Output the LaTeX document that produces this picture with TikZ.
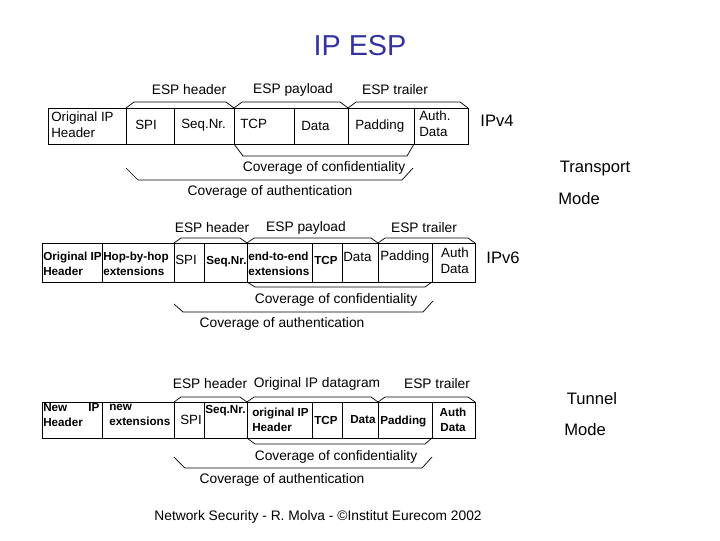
\documentclass[tikz,border=0pt]{standalone}
\usepackage{fontspec}
\setmainfont{Liberation Sans}
\definecolor{titleblue}{RGB}{51,51,160}
\tikzset{
  lbl/.style={font=\fontsize{9.8}{11}\selectfont, inner sep=0pt},
  side/.style={font=\fontsize{11.8}{13}\selectfont, inner sep=0pt},
  cellt/.style={font=\fontsize{9.5}{11.2}\selectfont, inner sep=0pt, align=left, anchor=west},
  cellb/.style={font=\fontsize{8.3}{10.5}\selectfont\bfseries, inner sep=0pt, align=left, anchor=west},
  box/.style={line width=0.6pt},
  brk/.style={line width=0.5pt},
}
\begin{document}
\begin{tikzpicture}[x=0.025cm, y=-0.025cm]
        \useasboundingbox (0,0) rectangle (720,540);

        % Title
        \node[titleblue, font=\fontsize{20.5}{24}\selectfont, inner sep=0pt] (title) at (360,46) {IP ESP};

        % ---------- Transport mode, IPv4 ----------
        \draw[box] (48,108) rectangle (468,144);
        \foreach \x in {126,174,234,294,348,414}
            \draw[box] (\x,108) -- (\x,144);
        \foreach \a/\b in {126/234, 234/348, 348/468}
            \draw[brk] (\a,108) -- (\a+8,102) -- (\b-8,102) -- (\b,108);
        \draw[brk] (234,144) -- (243,156) -- (407,156) -- (414,144);
        \draw[brk] (126,168) -- (138,180) -- (402,180) -- (413,168);

        \node[lbl] (hdrA) at (189,90) {ESP header};
        \node[lbl] (payA) at (293,90) {ESP payload};
        \node[lbl] (trlA) at (395,90) {ESP trailer};

        \node[cellt] (origA) at (51,125) {Original IP\\Header};
        \node[cellt] (spiA) at (135,125) {SPI};
        \node[cellt] (seqA) at (181,125) {Seq.Nr.};
        \node[cellt] (tcpA) at (240,124) {TCP};
        \node[cellt] (dataA) at (301,126) {Data};
        \node[cellt] (padA) at (355,126) {Padding};
        \node[cellt] (authA) at (419,124) {Auth.\\Data};

        \node[lbl] (confA) at (324,168) {Coverage of confidentiality};
        \node[lbl] (autA) at (270,192) {Coverage of authentication};
        \node[side] (ipvA) at (497,121) {IPv4};

        % ---------- Transport mode, IPv6 ----------
        \draw[box] (42,243) rectangle (475,282);
        \foreach \x in {102,174,204,247,312,342,378,432}
            \draw[box] (\x,243) -- (\x,282);
        \foreach \a/\b in {174/247, 247/378, 378/475}
            \draw[brk] (\a,243) -- (\a+7,238) -- (\b-7,238) -- (\b,243);
        \draw[brk] (247,282) -- (255,287) -- (425,287) -- (432,282);
        \draw[brk] (174,304) -- (183,312) -- (423,312) -- (433,301);

        \node[lbl] (hdrB) at (212,228) {ESP header};
        \node[lbl] (payB) at (306,228) {ESP payload};
        \node[lbl] (trlB) at (424,228) {ESP trailer};

        \node[cellb] (origB) at (43,264) {Original IP\\Header};
        \node[cellb] (hopB) at (103,264) {Hop-by-hop\\extensions};
        \node[cellt] (spiB) at (175,260) {SPI};
        \node[cellb] (seqB) at (206,262) {Seq.Nr.};
        \node[cellb] (e2eB) at (248,264) {end-to-end\\extensions};
        \node[cellb] (tcpB) at (314,260) {TCP};
        \node[cellt] (dataB) at (343,257) {Data};
        \node[cellt] (padB) at (380,257) {Padding};
        \node[cellt, anchor=east, align=right] (authB) at (469,261) {Auth\\Data};

        \node[lbl] (confB) at (336,300) {Coverage of confidentiality};
        \node[lbl] (autB) at (282,324) {Coverage of authentication};
        \node[side] (ipvB) at (503,258) {IPv6};

        % Mode label, transport
        \node[side] (transp) at (595,169) {Transport};
        \node[side] (modeA) at (579,199) {Mode};

        % ---------- Tunnel mode ----------
        \draw[box] (42,402) rectangle (475,438);
        \foreach \x in {102,174,204,247,312,342,378,432}
            \draw[box] (\x,402) -- (\x,438);
        \foreach \a/\b in {174/247, 247/378, 378/475}
            \draw[brk] (\a,402) -- (\a+7,397) -- (\b-7,397) -- (\b,402);
        \draw[brk] (247,438) -- (255,444) -- (425,444) -- (432,438);
        \draw[brk] (174,457) -- (185,468) -- (422,468) -- (432,457);

        \node[lbl] (hdrC) at (210,384) {ESP header};
        \node[lbl] (payC) at (317,384) {Original IP datagram};
        \node[lbl] (trlC) at (437,384) {ESP trailer};

        \node[cellb, text width=40pt] (newC) at (43,415) {New\hfill IP\\Header};
        \node[cellb] (extC) at (109,415) {new\\extensions};
        \node[cellt] (spiC) at (180,420) {SPI};
        \node[cellb] (seqC) at (205,411) {Seq.Nr.};
        \node[cellb] (origC) at (252,420) {original IP\\Header};
        \node[cellb] (tcpC) at (314,420) {TCP};
        \node[cellb] (dataC) at (350,420) {Data};
        \node[cellb] (padC) at (380,421) {Padding};
        \node[cellb, anchor=center, align=center] (authC) at (453,420) {Auth\\Data};

        \node[lbl] (confC) at (336,457) {Coverage of confidentiality};
        \node[lbl] (autC) at (282,480) {Coverage of authentication};

        % Mode label, tunnel
        \node[side] (tunn) at (592,399) {Tunnel};
        \node[side] (modeC) at (585,430) {Mode};

        % Footer
        \node[lbl] (foot) at (318,517) {Network Security - R. Molva - \textcopyright Institut Eurecom 2002};
\end{tikzpicture}
\end{document}
